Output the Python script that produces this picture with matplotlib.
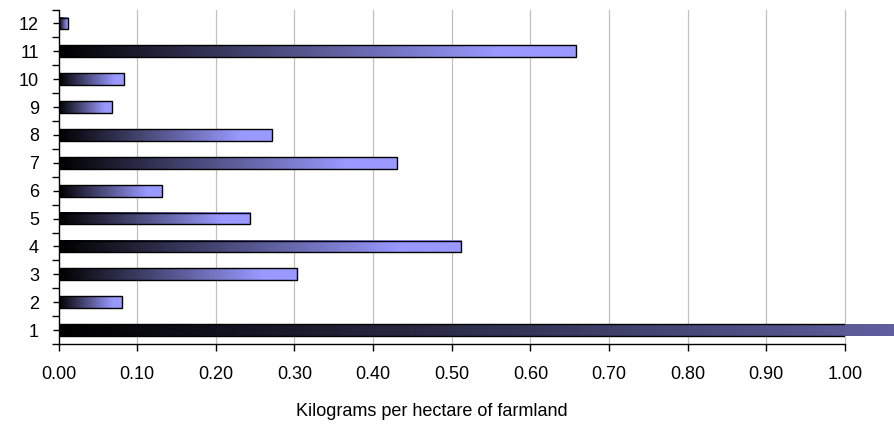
import numpy as np
import matplotlib
matplotlib.use("Agg")
import matplotlib.pyplot as plt
from matplotlib.colors import LinearSegmentedColormap
from matplotlib.patches import Rectangle
from matplotlib.ticker import FixedLocator

plt.rcParams['font.family'] = ['Liberation Sans', 'DejaVu Sans']

# Categories (bottom to top) and their values in kg per hectare
categories = ['1', '2', '3', '4', '5', '6', '7', '8', '9', '10', '11', '12']
values = [2.00, 0.081, 0.303, 0.512, 0.244, 0.132, 0.430, 0.271, 0.068, 0.083, 0.658, 0.0125]
x_ticks = [0.0, 0.1, 0.2, 0.3, 0.4, 0.5, 0.6, 0.7, 0.8, 0.9, 1.0]
x_title = 'Kilograms per hectare of farmland'

fig = plt.figure(figsize=(8.94, 4.25), dpi=100)
ax = fig.add_axes([58.5 / 894, 1 - 344 / 425, 786.5 / 894, (344 - 9.5) / 425])

cmap = LinearSegmentedColormap.from_list('bar_grad', ['#000000', '#9999FF'])
bar_h = 0.42
n = len(categories)

# Vertical grid lines
for xt in x_ticks[1:]:
    ax.axvline(xt, color='#C0C0C0', lw=0.9, zorder=0, clip_on=False)

for i, v in enumerate(values):
    xs = np.linspace(0, 1, 400)
    t = np.clip(xs / 0.85, 0, 1)
    ax.imshow(t[np.newaxis, :], cmap=cmap, vmin=0, vmax=1, aspect='auto',
              extent=(0, v, i - bar_h / 2, i + bar_h / 2),
              interpolation='bilinear', zorder=2, clip_on=False)
    ax.add_patch(Rectangle((0, i - bar_h / 2), v, bar_h, fill=False,
                           edgecolor='black', lw=1.0, zorder=3))

ax.set_xlim(0, 1.0)
ax.set_ylim(-0.5, n - 0.5)

ax.spines['top'].set_visible(False)
ax.spines['right'].set_visible(False)
ax.spines['left'].set_linewidth(1.0)
ax.spines['bottom'].set_linewidth(1.0)

ax.set_xticks(x_ticks)
ax.set_xticklabels([f'{x:.2f}' for x in x_ticks], fontsize=13)
ax.tick_params(axis='x', direction='out', length=5, width=1.0, pad=11)

ax.yaxis.set_major_locator(FixedLocator(np.arange(-0.5, n, 1.0)))
ax.yaxis.set_minor_locator(FixedLocator(np.arange(n)))
ax.set_yticklabels([''] * (n + 1))
ax.set_yticklabels(categories, minor=True, fontsize=13)
ax.tick_params(axis='y', which='major', direction='out', length=5, width=1.0)
ax.tick_params(axis='y', which='minor', direction='out', length=4, width=1.0, pad=10)

fig.text(432 / 894, 1 - 411 / 425, x_title, fontsize=13, ha='center', va='center')

fig.savefig('out.png', dpi=100)
